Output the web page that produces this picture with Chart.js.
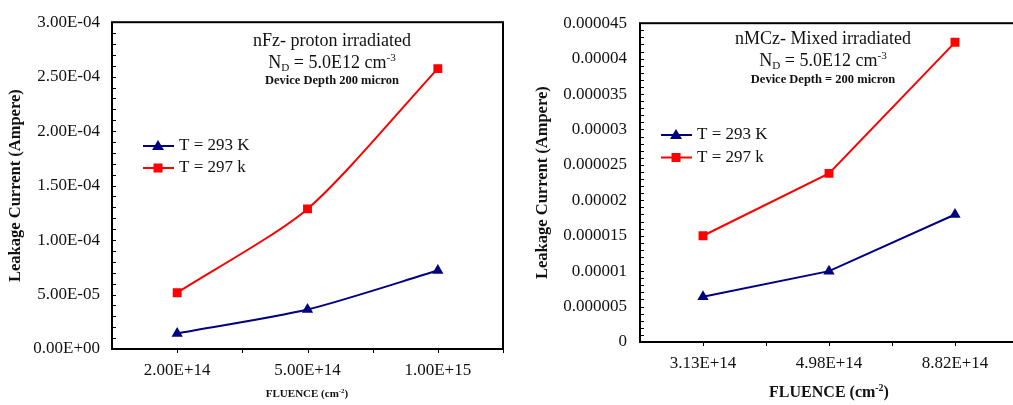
<!DOCTYPE html>
<html>
<head>
<meta charset="utf-8">
<title>Leakage current vs fluence</title>
<script src="https://cdn.jsdelivr.net/npm/chart.js@4"></script>
<style>
  html, body { margin: 0; padding: 0; background: #fff; overflow: hidden; width: 1013px; height: 405px; }
  body { position: relative; font-family: "Liberation Serif", serif; color: #111; }
  canvas { position: absolute; top: 0; }
  #leftChart { left: 0; }
  #rightChart { left: 510px; }
  .note { position: absolute; width: 240px; text-align: center; white-space: nowrap; line-height: 1; }
  .big { font-size: 18px; }
  .small { font-size: 12.5px; font-weight: bold; }
  sub, sup { font-size: 0.62em; line-height: 0; }
  sub { vertical-align: -0.3em; }
  sup { vertical-align: 0.65em; }
  .xtitle { position: absolute; width: 200px; text-align: center; font-weight: bold; line-height: 1; white-space: nowrap; }
</style>
</head>
<body>
<canvas id="leftChart" width="510" height="405"></canvas>
<canvas id="rightChart" width="520" height="405"></canvas>

<!-- left chart notes -->
<div class="note big" style="left:212px; top:31px;">nFz- proton irradiated</div>
<div class="note big" style="left:212px; top:53px;">N<sub>D</sub> = 5.0E12 cm<sup>-3</sup></div>
<div class="note small" style="left:212px; top:74px;">Device Depth 200 micron</div>
<div class="xtitle" style="left:207px; top:388px; font-size:11px;">FLUENCE (cm<sup>-2</sup>)</div>

<!-- right chart notes -->
<div class="note big" style="left:703px; top:29px;">nMCz- Mixed irradiated</div>
<div class="note big" style="left:703px; top:51px;">N<sub>D</sub> = 5.0E12 cm<sup>-3</sup></div>
<div class="note small" style="left:703px; top:73px;">Device Depth = 200 micron</div>
<div class="xtitle" style="left:729px; top:384px; font-size:16px;">FLUENCE (cm<sup>-2</sup>)</div>

<script>
// data
const fluenceLeft = ['2.00E+14', '5.00E+14', '1.00E+15'];
const current293Left = [1.43e-5, 3.62e-5, 7.2e-5];
const current297Left = [5.17e-5, 1.286e-4, 2.574e-4];
const yLabelsLeft = ['0.00E+00', '5.00E-05', '1.00E-04', '1.50E-04', '2.00E-04', '2.50E-04', '3.00E-04'];

const fluenceRight = ['3.13E+14', '4.98E+14', '8.82E+14'];
const current293Right = [6.4e-6, 1.0e-5, 1.8e-5];
const current297Right = [1.5e-5, 2.38e-5, 4.23e-5];
const yLabelsRight = ['0', '0.000005', '0.00001', '0.000015', '0.00002', '0.000025', '0.00003', '0.000035', '0.00004', '0.000045'];

const seriesNames = ['T = 293 K', 'T = 297 k'];

const BLUE = '#000080';
const RED = '#ff0000';

Chart.defaults.font.family = '"Liberation Serif", serif';
Chart.defaults.color = '#111';

// frame box, inner y ticks and x ticks below the axis
const frameTicks = {
  id: 'frameTicks',
  afterDraw(chart, args, opts) {
    const ctx = chart.ctx;
    const a = chart.chartArea;
    const x = chart.scales.x;
    const y = chart.scales.y;
    ctx.save();
    ctx.strokeStyle = '#000';
    ctx.lineWidth = 1;

    let n = Math.round(y.max / opts.minor);
    for (let i = 1; i < n; i++) {
      let py = Math.round(y.getPixelForValue(i * opts.minor)) + 0.5;
      ctx.beginPath();
      ctx.moveTo(a.left, py);
      ctx.lineTo(a.left + 4, py);
      ctx.stroke();
    }

    for (let i = 0; i < x.ticks.length; i++) {
      let spots = [i, i + 0.5];
      spots.forEach(function(v) {
        let px = Math.round(x.getPixelForValue(v)) + 0.5;
        ctx.beginPath();
        ctx.moveTo(px, a.bottom);
        ctx.lineTo(px, a.bottom + 4);
        ctx.stroke();
      });
    }

    ctx.lineWidth = 2;
    ctx.strokeRect(a.left, a.top, a.right - a.left, a.bottom - a.top);
    ctx.restore();
  }
};

// legend drawn inside the plot (line + marker + text)
const innerLegend = {
  id: 'innerLegend',
  afterDraw(chart, args, opts) {
    const ctx = chart.ctx;
    ctx.save();
    chart.data.datasets.forEach(function(ds, i) {
      let y = opts.y + i * opts.gap;
      ctx.strokeStyle = ds.borderColor;
      ctx.fillStyle = ds.borderColor;
      ctx.lineWidth = 2;
      ctx.beginPath();
      ctx.moveTo(opts.x, y);
      ctx.lineTo(opts.x + 31, y);
      ctx.stroke();

      let cx = opts.x + 15;
      ctx.beginPath();
      if (ds.pointStyle === 'triangle') {
        ctx.moveTo(cx, y - 6);
        ctx.lineTo(cx + 6, y + 4);
        ctx.lineTo(cx - 6, y + 4);
        ctx.closePath();
      } else {
        ctx.rect(cx - 4.5, y - 4.5, 9, 9);
      }
      ctx.fill();

      ctx.fillStyle = '#111';
      ctx.font = '17px "Liberation Serif", serif';
      ctx.textBaseline = 'middle';
      ctx.fillText(ds.label, opts.x + 36, y);
    });
    ctx.restore();
  }
};

function makeChart(id, labels, s293, s297, yLabels, cfg) {
  return new Chart(document.getElementById(id), {
    type: 'line',
    data: {
      labels: labels,
      datasets: [{
        label: seriesNames[0],
        data: s293,
        borderColor: BLUE,
        backgroundColor: BLUE,
        borderWidth: 2,
        pointStyle: 'triangle',
        pointRadius: 6.5,
        pointBorderWidth: 0,
        tension: cfg.tension
      }, {
        label: seriesNames[1],
        data: s297,
        borderColor: RED,
        backgroundColor: RED,
        borderWidth: 2,
        pointStyle: 'rect',
        pointRadius: 6.3,
        pointBorderWidth: 0,
        tension: cfg.tension
      }]
    },
    options: {
      responsive: false,
      animation: false,
      events: [],
      layout: { padding: { top: cfg.top, right: cfg.right, left: 0, bottom: 0 } },
      plugins: {
        legend: { display: false },
        tooltip: { enabled: false },
        innerLegend: cfg.legend,
        frameTicks: { minor: cfg.minor }
      },
      scales: {
        x: {
          type: 'category',
          offset: true,
          grid: { display: false, drawTicks: false },
          border: { display: false },
          ticks: { font: { size: 17 }, padding: 11, maxRotation: 0, color: '#111' },
          afterFit: function(s) { s.height = cfg.xHeight; }
        },
        y: {
          min: 0,
          max: cfg.yMax,
          grid: { display: false, drawTicks: false },
          border: { display: false },
          ticks: {
            count: yLabels.length,
            padding: cfg.tickPad,
            font: { size: 17 },
            color: '#111',
            callback: function(value, index) { return yLabels[index]; }
          },
          title: {
            display: true,
            text: 'Leakage Current (Ampere)',
            font: { size: 16.5, weight: 'bold' },
            color: '#111',
            padding: { top: cfg.titlePad, bottom: 0 }
          },
          afterFit: function(s) { s.width = cfg.yWidth; }
        }
      }
    },
    plugins: [frameTicks, innerLegend]
  });
}

makeChart('leftChart', fluenceLeft, current293Left, current297Left, yLabelsLeft, {
  tension: 0.25, top: 20, right: 7, xHeight: 56, yWidth: 112, yMax: 3e-4,
  minor: 1e-5, tickPad: 12, titlePad: 6.2,
  legend: { x: 143, y: 146, gap: 22 }
});

makeChart('rightChart', fluenceRight, current293Right, current297Right, yLabelsRight, {
  tension: 0, top: 13, right: 12, xHeight: 63, yWidth: 130, yMax: 4.5e-5,
  minor: 1e-6, tickPad: 13, titlePad: 23.2,
  legend: { x: 151, y: 135, gap: 22.5 }
});
</script>
</body>
</html>
